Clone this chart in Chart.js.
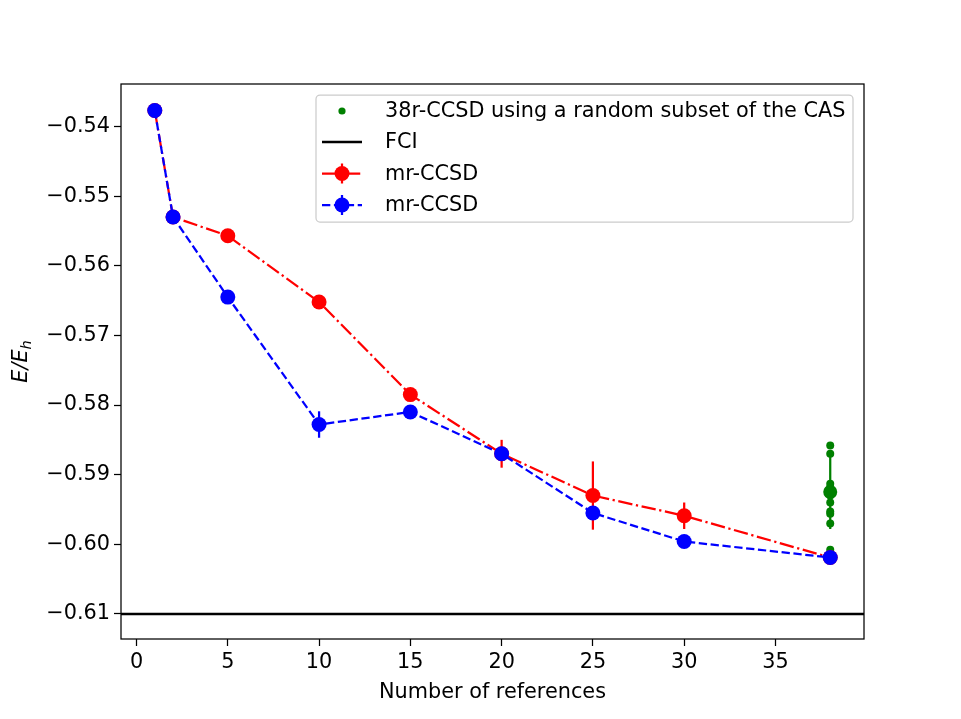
<!DOCTYPE html>
<html><head><meta charset="utf-8">
<script src="https://cdn.jsdelivr.net/npm/chart.js@4.4.0/dist/chart.umd.min.js"></script>
<style>html,body{margin:0;padding:0;background:#fff}#wrap{width:961px;height:719px;position:relative}canvas{display:block}</style>
</head><body><div id="wrap"><canvas id="c" width="961" height="719"></canvas></div>
<script>
// ---- data ----
const refsRed = [1, 2, 5, 10, 15, 20, 25, 30, 38];
const energyRed = [-0.5377, -0.5530, -0.5557, -0.5652, -0.5785, -0.5870, -0.5930, -0.5959, -0.6019];
const errRed = [0, 0, 0, 0, 0, 0.0020, 0.0049, 0.0019, 0];
const refsBlue = [1, 2, 5, 10, 15, 20, 25, 30, 38];
const energyBlue = [-0.5377, -0.5530, -0.5645, -0.5828, -0.5810, -0.5870, -0.5955, -0.5996, -0.6019];
const errBlue = [0, 0, 0, 0.0019, 0, 0.0010, 0.0008, 0, 0];
const randomX = 38;
const randomEnergies = [-0.5858, -0.5870, -0.5913, -0.5918, -0.5925, -0.5930, -0.5940, -0.5953, -0.5956, -0.5970, -0.6008];
const randomMean = -0.5925;
const randomErr = 0.0053;
const fciEnergy = -0.61;
const xTicks = [0, 5, 10, 15, 20, 25, 30, 35];
const yTicks = [-0.61, -0.60, -0.59, -0.58, -0.57, -0.56, -0.55, -0.54];
const legendLabels = ['38r-CCSD using a random subset of the CAS', 'FCI', 'mr-CCSD', 'mr-CCSD'];

const FONT = 'DejaVu Sans';
const FS = 20.8;
const X_MIN = -0.85, X_MAX = 39.85, Y_MIN = -0.6136, Y_MAX = -0.5339;
const RED_DASH = [14.4, 3.6, 2.25, 3.6];
const BLUE_DASH = [8.3, 3.6];

const pts = (xs, ys) => xs.map((x, i) => ({x: x, y: ys[i]}));

// error bar plugin
const errorBars = {
  id: 'errorBars',
  afterDatasetDraw(chart, args) {
    const ds = chart.data.datasets[args.index];
    if (!ds.errors) return;
    const ctx = chart.ctx, xs = chart.scales.x, ys = chart.scales.y;
    ctx.save();
    ctx.strokeStyle = ds.borderColor;
    ctx.lineWidth = 2.25;
    ds.data.forEach((p, i) => {
      const e = ds.errors[i];
      if (!e) return;
      const px = xs.getPixelForValue(p.x);
      ctx.beginPath();
      ctx.moveTo(px, ys.getPixelForValue(p.y - e));
      ctx.lineTo(px, ys.getPixelForValue(p.y + e));
      ctx.stroke();
    });
    ctx.restore();
  }
};

// frame, axis title, legend
const decor = {
  id: 'decor',
  afterDraw(chart) {
    const ctx = chart.ctx, a = chart.chartArea;
    ctx.save();
    ctx.strokeStyle = '#000';
    ctx.lineWidth = 1.25;
    ctx.strokeRect(a.left, a.top, a.right - a.left, a.bottom - a.top);

    // y title  E/E_h
    ctx.translate(27, (a.top + a.bottom) / 2);
    ctx.rotate(-Math.PI / 2);
    ctx.fillStyle = '#000';
    ctx.textBaseline = 'alphabetic';
    const main = 'E/E';
    ctx.font = 'italic ' + FS + 'px ' + FONT;
    const wMain = ctx.measureText(main).width;
    ctx.font = 'italic ' + (FS * 0.7) + 'px ' + FONT;
    const wSub = ctx.measureText('h').width;
    const start = -(wMain + wSub) / 2;
    ctx.font = 'italic ' + FS + 'px ' + FONT;
    ctx.textAlign = 'left';
    ctx.fillText(main, start, 0);
    ctx.font = 'italic ' + (FS * 0.7) + 'px ' + FONT;
    ctx.fillText('h', start + wMain, 4);
    ctx.restore();

    // legend
    ctx.save();
    const lx = 316, ly = 95, lw = 537, lh = 127;
    ctx.beginPath();
    if (ctx.roundRect) ctx.roundRect(lx, ly, lw, lh, 4); else ctx.rect(lx, ly, lw, lh);
    ctx.fillStyle = 'rgba(255,255,255,0.8)';
    ctx.fill();
    ctx.strokeStyle = '#cccccc';
    ctx.lineWidth = 1.25;
    ctx.stroke();
    const rows = [111, 142, 173.5, 205];
    const hx0 = 322, hx1 = 362, hc = 342, tx = 385;
    ctx.font = FS + 'px ' + FONT;
    ctx.textBaseline = 'middle';
    ctx.textAlign = 'left';
    ctx.fillStyle = '#000';
    legendLabels.forEach((t, i) => ctx.fillText(t, tx, rows[i] + 1));
    ctx.fillStyle = '#008000';
    ctx.beginPath(); ctx.arc(hc, rows[0], 3.6, 0, Math.PI * 2); ctx.fill();
    ctx.strokeStyle = '#000'; ctx.lineWidth = 2.5;
    ctx.beginPath(); ctx.moveTo(hx0, rows[1]); ctx.lineTo(hx1, rows[1]); ctx.stroke();
    const drawErrHandle = (y, col, dash) => {
      ctx.strokeStyle = col; ctx.fillStyle = col; ctx.lineWidth = 2.25;
      ctx.setLineDash(dash);
      ctx.beginPath(); ctx.moveTo(hx0, y); ctx.lineTo(hx1, y); ctx.stroke();
      ctx.setLineDash([]);
      ctx.beginPath(); ctx.moveTo(hc, y - 10); ctx.lineTo(hc, y + 10); ctx.stroke();
      ctx.beginPath(); ctx.arc(hc, y, 7.5, 0, Math.PI * 2); ctx.fill();
    };
    drawErrHandle(rows[2], '#ff0000', RED_DASH);
    drawErrHandle(rows[3], '#0000ff', BLUE_DASH);
    ctx.restore();
  }
};

const fmt = v => {
  const s = Math.abs(v).toFixed(2);
  return (v < 0 ? '\u2212' : '') + s;
};

new Chart(document.getElementById('c'), {
  type: 'scatter',
  data: {
    datasets: [
      {
        label: legendLabels[3], data: pts(refsBlue, energyBlue), errors: errBlue,
        showLine: true, borderColor: '#0000ff', backgroundColor: '#0000ff',
        borderWidth: 2.25, borderDash: BLUE_DASH, pointRadius: 7.5, pointBorderWidth: 0,
        pointBackgroundColor: '#0000ff'
      },
      {
        label: legendLabels[2], data: pts(refsRed, energyRed), errors: errRed,
        showLine: true, borderColor: '#ff0000', backgroundColor: '#ff0000',
        borderWidth: 2.25, borderDash: RED_DASH, pointRadius: 7.5, pointBorderWidth: 0,
        pointBackgroundColor: '#ff0000'
      },
      {
        label: legendLabels[1], data: [{x: X_MIN, y: fciEnergy}, {x: X_MAX, y: fciEnergy}],
        showLine: true, borderColor: '#000000', borderWidth: 2.5, pointRadius: 0
      },
      {
        label: 'mean', data: [{x: randomX, y: randomMean}], errors: [randomErr],
        borderColor: '#008000', backgroundColor: '#008000', pointRadius: 7, pointBorderWidth: 0
      },
      {
        label: legendLabels[0], data: randomEnergies.map(e => ({x: randomX, y: e})),
        borderColor: '#008000', backgroundColor: '#008000', pointRadius: 4, pointBorderWidth: 0
      }
    ]
  },
  options: {
    responsive: false,
    maintainAspectRatio: false,
    animation: false,
    devicePixelRatio: 1,
    layout: {padding: {left: 0, top: 84, right: 97, bottom: 0}},
    plugins: {legend: {display: false}, tooltip: {enabled: false}},
    scales: {
      x: {
        type: 'linear', min: X_MIN, max: X_MAX,
        afterBuildTicks: s => { s.ticks = xTicks.map(v => ({value: v})); },
        afterFit: s => { s.height = 80; },
        grid: {display: true, drawOnChartArea: false, drawTicks: true, tickLength: 7, color: '#000', tickWidth: 1.25},
        border: {display: false},
        ticks: {color: '#000', font: {family: FONT, size: FS}, padding: 4, maxRotation: 0, autoSkip: false,
          callback: v => String(v)},
        title: {display: true, text: 'Number of references', color: '#000', font: {family: FONT, size: FS}, padding: {top: 0, bottom: 14}}
      },
      y: {
        type: 'linear', min: Y_MIN, max: Y_MAX,
        afterBuildTicks: s => { s.ticks = yTicks.map(v => ({value: v})); },
        afterFit: s => { s.width = 121; },
        grid: {display: true, drawOnChartArea: false, drawTicks: true, tickLength: 7, color: '#000', tickWidth: 1.25},
        border: {display: false},
        ticks: {color: '#000', font: {family: FONT, size: FS}, padding: 4, autoSkip: false,
          callback: v => fmt(v)}
      }
    }
  },
  plugins: [errorBars, decor]
});
</script></body></html>
